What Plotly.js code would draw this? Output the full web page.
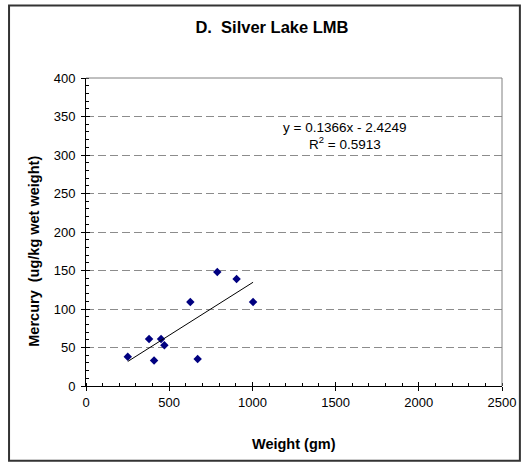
<!DOCTYPE html>
<html>
<head>
<meta charset="utf-8">
<script src="https://cdn.plot.ly/plotly-3.0.1.min.js"></script>
<style>
html,body{margin:0;padding:0;background:#fff;}
#chart{width:522px;height:464px;}
</style>
</head>
<body>
<div id="chart"></div>
<script>
// Data
const weight = [251, 379, 409, 451, 471, 627, 671, 789, 905, 1004];
const mercury = [38, 61, 33, 61, 53, 109, 35, 148, 139, 109];
const slope = 0.1366;
const intercept = -2.4249;
const r2 = 0.5913;
const titleText = "D.  Silver Lake LMB";
const xTitle = "Weight (gm)";
const yTitle = "Mercury  (ug/kg wet weight)";
const xTickVals = [0, 500, 1000, 1500, 2000, 2500];
const yTickVals = [0, 50, 100, 150, 200, 250, 300, 350, 400];

const xMin = Math.min(...weight), xMax = Math.max(...weight);
const trendX = [xMin, xMax];
const trendY = trendX.map(x => slope * x + intercept);

const font = "Liberation Sans, Arial, sans-serif";

const traces = [
  {
    x: weight, y: mercury, type: 'scatter', mode: 'markers',
    marker: {symbol: 'diamond', size: 6.5, color: '#000080', line: {width: 0}},
    hoverinfo: 'x+y', showlegend: false
  },
  {
    x: trendX, y: trendY, type: 'scatter', mode: 'lines', xaxis: 'x2', yaxis: 'y2',
    line: {color: '#000000', width: 1}, showlegend: false, hoverinfo: 'skip'
  }
];

const commonX = {range: [0, 2500], tickvals: xTickVals, fixedrange: true, zeroline: false};
const commonY = {range: [0, 400], tickvals: yTickVals, fixedrange: true, zeroline: false};

const layout = {
  width: 522, height: 464,
  margin: {l: 86, r: 20, t: 78, b: 78},
  paper_bgcolor: '#ffffff', plot_bgcolor: '#ffffff',
  font: {family: font, color: '#000', size: 12},
  showlegend: false,
  title: {
    text: '<b>' + titleText + '</b>',
    font: {family: font, size: 16.5, color: '#000'},
    x: 0.521, xref: 'container', xanchor: 'center',
    y: 0.9407, yref: 'container', yanchor: 'middle'
  },
  xaxis: Object.assign({}, commonX, {
    ticktext: xTickVals.map(String),
    showgrid: false,
    showline: true, linecolor: '#000', linewidth: 1,
    ticks: 'outside', ticklen: 4, tickcolor: '#000', tickwidth: 1,
    minor: {dtick: 100, ticks: 'inside', ticklen: 3, tickcolor: '#000', showgrid: false},
    tickfont: {family: font, size: 13, color: '#000'}
  }),
  yaxis: Object.assign({}, commonY, {
    ticktext: yTickVals.map(String),
    showgrid: true, gridcolor: '#8c8c8c', griddash: '8px,4px', gridwidth: 1,
    showline: true, linecolor: '#000', linewidth: 1,
    ticks: 'outside', ticklen: 4, tickcolor: '#000', tickwidth: 1,
    minor: {dtick: 10, ticks: 'inside', ticklen: 3, tickcolor: '#000', showgrid: false},
    tickfont: {family: font, size: 13, color: '#000'},
    ticklabelstandoff: 3
  }),
  // overlay axes give the major ticks their inner half (Excel "cross" ticks)
  xaxis2: Object.assign({}, commonX, {
    overlaying: 'x', anchor: 'y2', side: 'bottom', showgrid: false, showline: false,
    showticklabels: false, ticks: 'inside', ticklen: 4, tickcolor: '#000', tickwidth: 1
  }),
  yaxis2: Object.assign({}, commonY, {
    overlaying: 'y', anchor: 'x2', side: 'left', showgrid: false, showline: false,
    showticklabels: false, ticks: 'inside', ticklen: 4, tickcolor: '#000', tickwidth: 1
  }),
  shapes: [
    // plot area border (top and right, gray)
    {type: 'line', xref: 'paper', yref: 'paper', x0: 0, x1: 1, y0: 1, y1: 1, line: {color: '#808080', width: 1}},
    {type: 'line', xref: 'paper', yref: 'paper', x0: 1, x1: 1, y0: 0, y1: 1, line: {color: '#808080', width: 1}},
    // chart frame
    {type: 'rect', xref: 'paper', yref: 'paper', x0: -0.185, x1: 1.043, y0: -0.243, y1: 1.235,
     line: {color: '#333333', width: 2}, fillcolor: 'rgba(0,0,0,0)', layer: 'below'}
  ],
  annotations: [
    {x: 1556, y: 336, xref: 'x', yref: 'y', text: 'y = ' + slope + 'x - ' + Math.abs(intercept),
     showarrow: false, font: {family: font, size: 13.5, color: '#000'}, xanchor: 'center', yanchor: 'middle'},
    {x: 1556, y: 315, xref: 'x', yref: 'y', text: 'R<sup>2</sup> = ' + r2,
     showarrow: false, font: {family: font, size: 13.5, color: '#000'}, xanchor: 'center', yanchor: 'middle'},
    // axis titles
    {x: 0.5, y: -0.188, xref: 'paper', yref: 'paper', text: '<b>' + xTitle + '</b>',
     showarrow: false, font: {family: font, size: 14.5, color: '#000'}, xanchor: 'center', yanchor: 'middle'},
    {x: -0.1238, y: 0.4376, xref: 'paper', yref: 'paper', text: '<b>' + yTitle + '</b>', textangle: -90,
     showarrow: false, font: {family: font, size: 14.5, color: '#000'}, xanchor: 'center', yanchor: 'middle'}
  ]
};

Plotly.newPlot('chart', traces, layout, {displayModeBar: false, staticPlot: true});
</script>
</body>
</html>
